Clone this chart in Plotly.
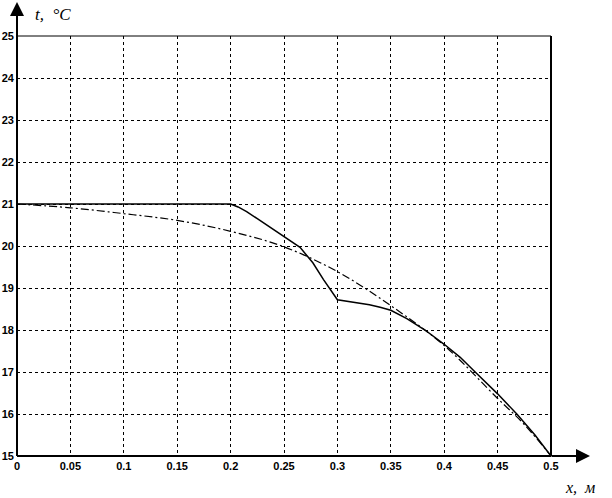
import plotly.graph_objects as go

# Data
x_solid = [0, 0.05, 0.1, 0.15, 0.2, 0.207, 0.215, 0.225, 0.237, 0.25, 0.258, 0.265,
           0.277, 0.287, 0.3, 0.31, 0.32, 0.33, 0.34, 0.35, 0.365, 0.382, 0.4,
           0.415, 0.429, 0.45, 0.468, 0.485, 0.5]
t_solid = [21, 21, 21, 21, 21, 20.93, 20.82, 20.65, 20.45, 20.22, 20.1, 19.97,
           19.6, 19.2, 18.72, 18.68, 18.65, 18.6, 18.54, 18.47, 18.27, 18.0, 17.66,
           17.35, 17.0, 16.48, 16.0, 15.5, 15]

x_dash = [0, 0.05, 0.1, 0.15, 0.2, 0.25, 0.3, 0.35, 0.4, 0.45, 0.475, 0.5]
t_dash = [21, 20.91, 20.77, 20.61, 20.35, 19.98, 19.39, 18.58, 17.63, 16.37, 15.75, 15]

x_ticks = [0, 0.05, 0.1, 0.15, 0.2, 0.25, 0.3, 0.35, 0.4, 0.45, 0.5]
x_tick_labels = ["0", "0.05", "0.1", "0.15", "0.2", "0.25", "0.3", "0.35", "0.4", "0.45", "0.5"]
y_ticks = list(range(15, 26))
y_tick_labels = [str(v) for v in y_ticks]

fig = go.Figure()
fig.add_trace(go.Scatter(x=x_dash, y=t_dash, mode="lines", line_shape="spline",
                         line=dict(color="black", width=1.2, dash="8px,3px,2px,3px"),
                         showlegend=False))
fig.add_trace(go.Scatter(x=x_solid, y=t_solid, mode="lines",
                         line=dict(color="black", width=1.5),
                         showlegend=False))

tick_font = dict(family="Liberation Sans Narrow, Liberation Sans, Arial", size=11,
                 color="black", weight="bold")

fig.update_xaxes(range=[0, 0.5], tickmode="array", tickvals=x_ticks, ticktext=x_tick_labels,
                 showgrid=True, gridcolor="black", griddash="dot", gridwidth=1,
                 zeroline=False, showline=False, ticks="", tickfont=tick_font,
                 ticklabelstandoff=2, automargin=False)
fig.update_yaxes(range=[15, 25], tickmode="array", tickvals=y_ticks, ticktext=y_tick_labels,
                 showgrid=True, gridcolor="black", griddash="dot", gridwidth=1,
                 zeroline=False, showline=False, ticks="", tickfont=tick_font,
                 ticklabelstandoff=2, automargin=False)

shapes = [
    dict(type="line", xref="paper", yref="paper", x0=0, x1=1, y0=1, y1=1,
         line=dict(color="black", width=1)),
    dict(type="line", xref="paper", yref="paper", x0=1, x1=1, y0=0, y1=1,
         line=dict(color="black", width=2)),
    dict(type="line", xref="paper", yref="paper", x0=0, x1=0, y0=0, y1=1,
         line=dict(color="black", width=2)),
    dict(type="line", xref="paper", yref="paper", x0=0, x1=1, y0=0, y1=0,
         line=dict(color="black", width=2)),
]

annotations = [
    dict(text="", xref="paper", yref="paper", x=0, y=1.081, axref="pixel", ayref="pixel",
         ax=0, ay=36, showarrow=True, arrowhead=2, arrowsize=1.4, arrowwidth=2,
         arrowcolor="black", standoff=0, startstandoff=0),
    dict(text="", xref="paper", yref="paper", x=1.073, y=0, axref="pixel", ayref="pixel",
         ax=-40, ay=0, showarrow=True, arrowhead=2, arrowsize=1.4, arrowwidth=2,
         arrowcolor="black", standoff=0, startstandoff=0),
    dict(text="<i>t,  °C</i>", xref="paper", yref="paper", x=0.03, y=1.052,
         xanchor="left", yanchor="middle", showarrow=False,
         font=dict(family="Liberation Serif, Times New Roman", size=17, color="black")),
    dict(text="<i>x,  м</i>", xref="paper", yref="paper", x=1.086, y=-0.076,
         xanchor="right", yanchor="middle", showarrow=False,
         font=dict(family="Liberation Serif, Times New Roman", size=16, color="black")),
]

fig.update_layout(width=612, height=498, margin=dict(l=17, r=61, t=36, b=42),
                  plot_bgcolor="white", paper_bgcolor="white",
                  shapes=shapes, annotations=annotations)

fig.write_html("out.html", config={"displayModeBar": False},
               post_script="document.body.style.margin='0';document.body.style.padding='0';")
